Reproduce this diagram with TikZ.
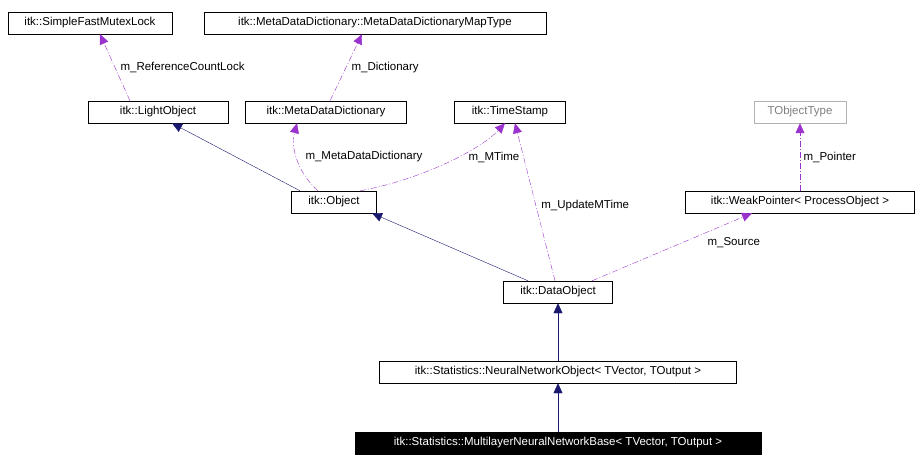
\documentclass[tikz,border=0pt]{standalone}
\usepackage{fontspec}
\setmainfont{Liberation Sans}
\usepackage{tikz}
\usetikzlibrary{arrows.meta,positioning}
\definecolor{inherit}{HTML}{191970}
\definecolor{usage}{HTML}{9A32CD}
\begin{document}
\begin{tikzpicture}[x=1pt,y=-1pt,
      cls/.style={draw=black,fill=white,inner sep=2pt,minimum height=22pt,font=\fontsize{11.5}{13}\selectfont},
      inh/.style={draw=inherit,-{Triangle[length=10pt,width=9pt]}},
      use/.style={draw=usage,dash pattern=on 6pt off 2pt on 1pt off 2pt,-{Triangle[length=10pt,width=9pt]}},
      lbl/.style={font=\fontsize{11.5}{13}\selectfont}
    ]
    \useasboundingbox (0,0) rectangle (922,468);

    \node[cls,minimum width=164pt] (mutex)  at (90,23)  {itk::SimpleFastMutexLock};
    \node[cls,minimum width=342pt] (maptype) at (375,23) {itk::MetaDataDictionary::MetaDataDictionaryMapType};
    \node[cls,minimum width=140pt] (light)  at (158,112) {itk::LightObject};
    \node[cls,minimum width=161pt] (mdd)    at (326,112) {itk::MetaDataDictionary};
    \node[cls,minimum width=111pt] (stamp)  at (510,112) {itk::TimeStamp};
    \node[cls,draw=gray!60,text=gray,minimum width=92pt] (otype) at (800,112) {TObjectType};
    \node[cls,minimum width=85pt]  (object) at (334,202) {itk::Object};
    \node[cls,minimum width=229pt] (weak)   at (800,202) {itk::WeakPointer< ProcessObject >};
    \node[cls,minimum width=109pt] (data)   at (558,292) {itk::DataObject};
    \node[cls,minimum width=357pt] (nno)    at (558,372) {itk::Statistics::NeuralNetworkObject< TVector, TOutput >};
    \node[cls,fill=black,text=white,minimum width=406pt] (mlnn) at (558,443) {itk::Statistics::MultilayerNeuralNetworkBase< TVector, TOutput >};

    % member usage
    \draw[use] (light.north -| 130,0) -- (mutex.south -| 100,0)
      node[lbl,pos=.5,right=2pt] {m\_ReferenceCountLock};
    \draw[use] (mdd.north -| 330,0) -- (maptype.south -| 362,0)
      node[lbl,pos=.5,right=2pt] {m\_Dictionary};
    \draw[use] (object.north -| 318,0) .. controls (300,175) and (290,150) .. (mdd.south -| 297,0);
    \node[lbl] (mddlbl) at (364,157) {m\_MetaDataDictionary};
    \draw[use] (object.north -| 360,0) .. controls (420,180) and (480,150) .. (stamp.south -| 505,0);
    \node[lbl] (mtimelbl) at (494,157) {m\_MTime};
    \draw[use] (data.north -| 555,0) -- (stamp.south -| 515,0)
      node[lbl,pos=.48,right=2pt] {m\_UpdateMTime};
    \draw[use] (data.north -| 592,0) -- (weak.south -| 752,0)
      node[lbl,pos=.7,below right=0pt and 0pt] {m\_Source};
    \draw[use] (weak) -- (otype)
      node[lbl,pos=.5,right=0pt] {m\_Pointer};

    % inheritance
    \draw[inh] (object.north -| 300,0) -- (light.south -| 172,0);
    \draw[inh] (data.north -| 528,0) -- (object.south -| 372,0);
    \draw[inh] (nno) -- (data);
    \draw[inh] (mlnn) -- (nno);
  \end{tikzpicture}
\end{document}
